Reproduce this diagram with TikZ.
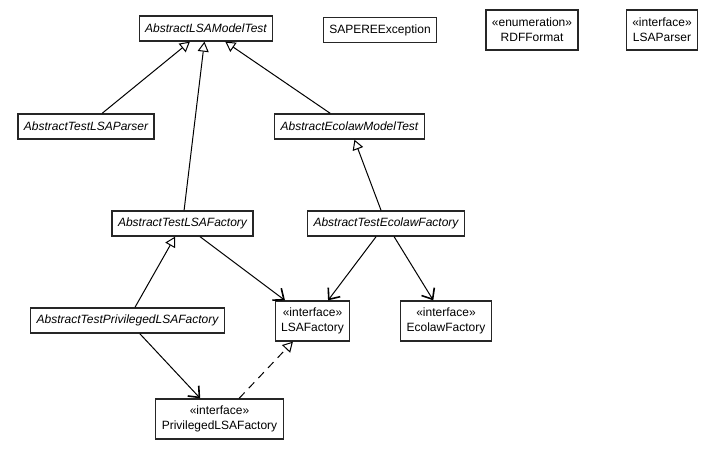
\documentclass[tikz,border=0pt]{standalone}
\usepackage{fontspec}
\setmainfont{Liberation Sans}
\usetikzlibrary{arrows.meta,positioning}
\tikzset{
  font=\fontsize{12}{15}\selectfont,
  cls/.style   ={draw=black!85, fill=white, line width=1.3pt, align=center, inner xsep=6pt, inner ysep=0pt, minimum height=25pt},
  abscls/.style={cls, font=\fontsize{12}{15}\selectfont\itshape},
  iface/.style ={cls, minimum height=40pt},
  gen/.style   ={-{Triangle[open, length=10pt, width=11pt, line width=1pt]}, line width=1pt},
  real/.style  ={gen, dash pattern=on 8pt off 6pt},
  uses/.style  ={-{Straight Barb[length=9pt, width=15pt, line width=1.6pt]}, line width=1pt},
}
\begin{document}
\begin{tikzpicture}[x=1pt, y=-1pt]
  \useasboundingbox (0,0) rectangle (723,451);

  % top row
  \node[abscls] (lsaModel) at (206,28.5) {AbstractLSAModelTest};
  \node[cls]    (sapere)   at (380,30)   {SAPEREException};
  \node[iface]  (rdf)      at (532,30)   {«enumeration»\\RDFFormat};
  \node[iface]  (parser)   at (662,30)   {«interface»\\LSAParser};

  % abstract test classes
  \node[abscls] (testParser)     at (86,126.5)   {AbstractTestLSAParser};
  \node[abscls] (ecoModel)       at (349.5,126.5) {AbstractEcolawModelTest};
  \node[abscls] (testFactory)    at (182.5,223.5) {AbstractTestLSAFactory};
  \node[abscls] (testEcoFactory) at (386,223.5)   {AbstractTestEcolawFactory};
  \node[abscls] (testPriv)       at (127.5,320.5) {AbstractTestPrivilegedLSAFactory};

  % interfaces under test
  \node[iface] (lsaFactory)  at (312.5,321) {«interface»\\LSAFactory};
  \node[iface] (ecoFactory)  at (446,321)   {«interface»\\EcolawFactory};
  \node[iface] (privFactory) at (219.5,419) {«interface»\\PrivilegedLSAFactory};

  \foreach \a/\b in {testParser/lsaModel, testFactory/lsaModel, ecoModel/lsaModel,
                     testEcoFactory/ecoModel, testPriv/testFactory}
    \draw[gen] (\a) -- (\b);
  \foreach \a/\b in {testFactory/lsaFactory, testEcoFactory/lsaFactory,
                     testEcoFactory/ecoFactory, testPriv/privFactory}
    \draw[uses] (\a) -- (\b);
  \draw[real] (privFactory) -- (lsaFactory);
\end{tikzpicture}
\end{document}
